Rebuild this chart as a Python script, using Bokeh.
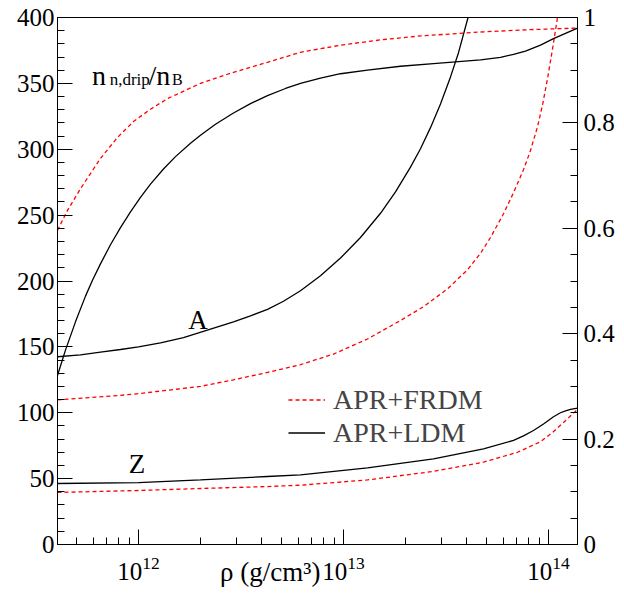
from bokeh.plotting import figure
from bokeh.models import (LinearAxis, Range1d, SingleIntervalTicker, LogTicker, LogTickFormatter,
                          Label, Legend, LegendItem, CustomJSTickFormatter)
from bokeh.embed import file_html
from bokeh.resources import INLINE

# ---------------- data ----------------
# densities are given as log10(rho / g cm^-3)
# mass number A, APR+LDM
lr_A_ldm = [11.6049, 11.7171, 11.8146, 11.9122, 12.0, 12.1073, 12.2195, 12.3512, 12.4634, 12.5463,
            12.6293, 12.7073, 12.7902, 12.8878, 12.9854, 13.0829, 13.1805, 13.2537, 13.3268, 13.3756,
            13.4244, 13.4732, 13.5220, 13.5610, 13.6049, 13.6439]
A_ldm = [142.5, 144, 146, 148, 150, 153, 157, 163.5, 169, 173.5, 178.5, 184.6, 192.6, 204, 217.4, 233,
         251.4, 267.6, 286.4, 300.4, 316.4, 334.4, 354.9, 373.3, 398.5, 422]
# mass number A, APR+FRDM
lr_A_frdm = [11.6049, 11.8976, 12.0, 12.3024, 12.4634, 12.6293, 12.7902, 12.9512, 13.1171, 13.2780,
             13.3902, 13.5073, 13.6049, 13.6683, 13.7171, 13.7805, 13.8293, 13.8780, 13.9122, 13.9463,
             13.9707, 13.9951, 14.0195, 14.0439, 14.0634]
A_frdm = [109.8, 113, 114.5, 120, 125, 130.6, 136.5, 144.5, 156, 170, 180.5, 194, 208.5, 221, 233, 251,
          267, 284.5, 299, 317, 333.5, 353.5, 376, 400, 422]
# proton number Z, APR+LDM
lr_Z_ldm = [11.6049, 12.0, 12.3024, 12.6293, 12.7902, 13.1171, 13.4390, 13.5610, 13.6829, 13.8293,
            13.8780, 13.9268, 13.9756, 14.0244, 14.0585, 14.0829, 14.1073, 14.1415]
Z_ldm = [46.3, 47, 49, 51.6, 52.9, 58.2, 65, 68.8, 72.6, 79, 82.5, 86.5, 91.5, 97, 100, 101.5, 102.6,
         103.5]
# proton number Z, APR+FRDM
lr_Z_frdm = [11.6049, 12.0, 12.3024, 12.6293, 12.7902, 13.1171, 13.4390, 13.6829, 13.8488, 13.9610,
             14.0195, 14.0829, 14.1415]
Z_frdm = [39.5, 41, 42.5, 44, 45, 49, 55.5, 62.5, 70, 78, 85, 94, 102.5]
# neutron drip fraction n_n,drip / n_B, APR+LDM (right axis)
lr_drip_ldm = [11.6049, 11.6439, 11.6927, 11.7415, 11.7756, 11.8146, 11.8634, 11.9122, 11.9610,
               12.0098, 12.0585, 12.1220, 12.1805, 12.2537, 12.3024, 12.3756, 12.4634, 12.5463,
               12.6293, 12.7171, 12.7902, 12.8878, 12.9854, 13.1171, 13.2780, 13.4390, 13.6683,
               13.7659, 13.8293, 13.8878, 13.9610, 14.0244, 14.0829, 14.1415]
drip_ldm = [0.3208, 0.3688, 0.4225, 0.4713, 0.5013, 0.5325, 0.5688, 0.6013, 0.6313, 0.6588, 0.6838,
            0.7125, 0.7360, 0.7615, 0.7765, 0.7973, 0.8188, 0.8365, 0.8518, 0.8653, 0.8748, 0.8848,
            0.8933, 0.9000, 0.9075, 0.9125, 0.9195, 0.9245, 0.9300, 0.9363, 0.9475, 0.9600, 0.9700,
            0.9800]
# neutron drip fraction, APR+FRDM (right axis)
lr_drip_frdm = [11.6049, 11.6537, 11.7171, 11.7805, 11.8146, 11.8976, 11.9756, 12.0585, 12.1415,
                12.3024, 12.4634, 12.6293, 12.7902, 12.9854, 13.1805, 13.3756, 13.6683, 13.9122,
                14.1415]
drip_frdm = [0.596, 0.634, 0.675, 0.7125, 0.7325, 0.7725, 0.8025, 0.826, 0.846, 0.875, 0.896, 0.915,
             0.934, 0.9475, 0.9575, 0.965, 0.9725, 0.977, 0.98]

rho = lambda lr: [10.0 ** v for v in lr]

x_lo, x_hi = 4.027e11, 1.385e14
FONT = "Liberation Serif"

p = figure(width=624, height=594, x_axis_type="log", x_range=(x_lo, x_hi), y_range=(0, 400),
           output_backend="svg", toolbar_location=None,
           min_border_left=57, min_border_right=47, min_border_top=17, min_border_bottom=50)
p.xgrid.visible = False
p.ygrid.visible = False
p.outline_line_color = "black"
p.outline_line_width = 1
p.background_fill_color = "white"
p.border_fill_color = "white"

ya = p.yaxis[0]
ya.ticker = SingleIntervalTicker(interval=50, num_minor_ticks=5)
xa = p.xaxis[0]
xa.ticker = LogTicker(num_minor_ticks=10)
xa.formatter = LogTickFormatter()

p.extra_y_ranges = {"frac": Range1d(0, 1)}
ra = LinearAxis(y_range_name="frac", ticker=SingleIntervalTicker(interval=0.2, num_minor_ticks=4),
                formatter=CustomJSTickFormatter(code="return String(Math.round(tick*10)/10);"))
p.add_layout(ra, "right")

for ax in (ya, xa, ra):
    ax.major_tick_in = 15
    ax.major_tick_out = 0
    ax.minor_tick_in = 7
    ax.minor_tick_out = 0
    ax.major_tick_line_color = "black"
    ax.minor_tick_line_color = "black"
    ax.axis_line_color = "black"
    ax.major_label_text_font = FONT
    ax.major_label_text_font_size = "25px"
    ax.major_label_text_color = "black"
ya.major_label_standoff = 3
ra.major_label_standoff = 6
xa.major_label_standoff = 12

# x-axis title, shifted left of centre (as in the reference) with trailing no-break spaces
xa.axis_label = "\u03c1 (g/cm\u00b3)" + "\u00a0" * 14
xa.axis_label_text_font = FONT
xa.axis_label_text_font_size = "27px"
xa.axis_label_text_font_style = "normal"
xa.axis_label_text_color = "black"
xa.axis_label_standoff = -26

RED = "#ff0000"
DASH = "4 3"
r_a_frdm = p.line(rho(lr_A_frdm), A_frdm, line_color=RED, line_width=1.3, line_dash=DASH)
r_a_ldm = p.line(rho(lr_A_ldm), A_ldm, line_color="black", line_width=1.3)
p.line(rho(lr_Z_frdm), Z_frdm, line_color=RED, line_width=1.3, line_dash=DASH)
p.line(rho(lr_Z_ldm), Z_ldm, line_color="black", line_width=1.3)
p.line(rho(lr_drip_frdm), drip_frdm, line_color=RED, line_width=1.3, line_dash=DASH, y_range_name="frac")
p.line(rho(lr_drip_ldm), drip_ldm, line_color="black", line_width=1.3, y_range_name="frac")

legend = Legend(items=[LegendItem(label="APR+FRDM", renderers=[r_a_frdm]),
                       LegendItem(label="APR+LDM", renderers=[r_a_ldm])],
                location=(231, 95), label_text_font=FONT, label_text_font_size="28px",
                glyph_width=37, glyph_height=33, label_height=33, label_standoff=8,
                spacing=0, padding=0, margin=0, border_line_alpha=0, background_fill_alpha=0)
p.add_layout(legend)

def lab(x, y, text, size, xo=0, yo=0):
    p.add_layout(Label(x=x, y=y, text=text, x_offset=xo, y_offset=yo, text_font=FONT,
                       text_font_size=size, text_color="black", text_baseline="alphabetic"))

lab(5.94e11, 356, "n", "28px")
lab(5.94e11, 356, "n,drip", "17px", xo=17.6, yo=-4.3)
lab(5.94e11, 356, "/n", "28px", xo=56.3)
lab(5.94e11, 356, "B", "16px", xo=80, yo=-4)
lab(1.75e12, 170.5, "A", "27px")
lab(8.97e11, 61.3, "Z", "27px")

open("out.html", "w").write(file_html(p, INLINE))
